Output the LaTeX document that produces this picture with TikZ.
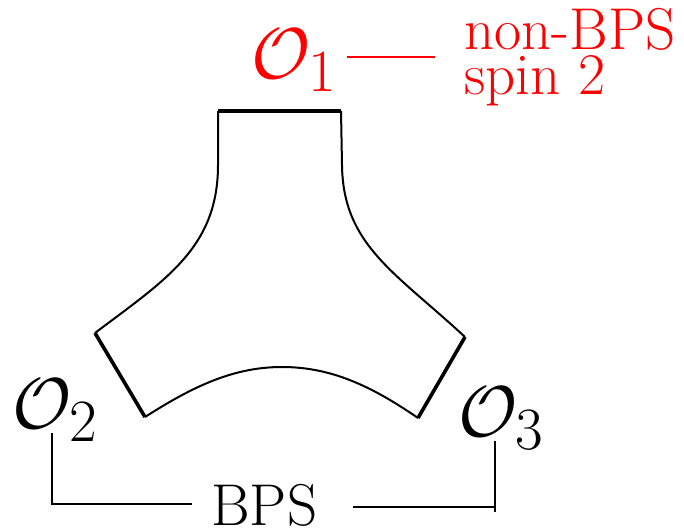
\documentclass[tikz,border=0pt]{standalone}
\begin{document}
\begin{tikzpicture}[x=0.5pt,y=-0.5pt,
  thinline/.style={line width=1pt},
  thickline/.style={line width=1.8pt},
  conn/.style={line width=0.8pt},
  mlabel/.style={inner sep=0pt,anchor=base west,scale=1.447,font=\fontsize{24.88}{28}\selectfont},
  tlabel/.style={inner sep=0pt,anchor=base west,font=\fontsize{29.5}{33}\selectfont}]
\useasboundingbox (0,0) rectangle (684,530);
% labels
\node[mlabel,text=red] (o1) at (251,78) {$\mathcal{O}_1$};
\node[mlabel] (o2) at (12,428) {$\mathcal{O}_2$};
\node[mlabel] (o3) at (458,436) {$\mathcal{O}_3$};
\node[tlabel,text=red] (nb) at (464,49) {non-BPS};
\node[tlabel,text=red] (sp) at (464,94) {spin 2};
\node[tlabel] (bps) at (211,525) {BPS};
% corners of the shape
\coordinate (a) at (218,111);
\coordinate (b) at (341,111);
\coordinate (c) at (465,337);
\coordinate (d) at (418,418);
\coordinate (e) at (145,417);
\coordinate (f) at (95,333);
% shape
\draw[thickline] (a) -- (b);
\draw[thinline] (b) -- (342,165) .. controls (343,245) and (395,272) .. (c);
\draw[thickline] (c) -- (d);
\draw[thinline] (d) .. controls (370,385) and (330,367) .. (282,367)
                    .. controls (235,367) and (195,385) .. (e);
\draw[thickline] (e) -- (f);
\draw[thinline] (f) .. controls (165,280) and (218,248) .. (218,165) -- (a);
% connectors
\coordinate (r1) at (347,57);
\coordinate (r2) at (435,57);
\draw[red,conn] (r1) -- (r2);
\coordinate (l1) at (52,433);
\coordinate (l2) at (52,504);
\coordinate (l3) at (192,504);
\draw[conn] (l1) -- (l2) -- (l3);
\coordinate (q1) at (353,507);
\coordinate (q2) at (495,507);
\coordinate (q3) at (495,441);
\draw[conn] (q1) -- (q2);
\draw[conn] (495,512) -- (q3);
\end{tikzpicture}
\end{document}
